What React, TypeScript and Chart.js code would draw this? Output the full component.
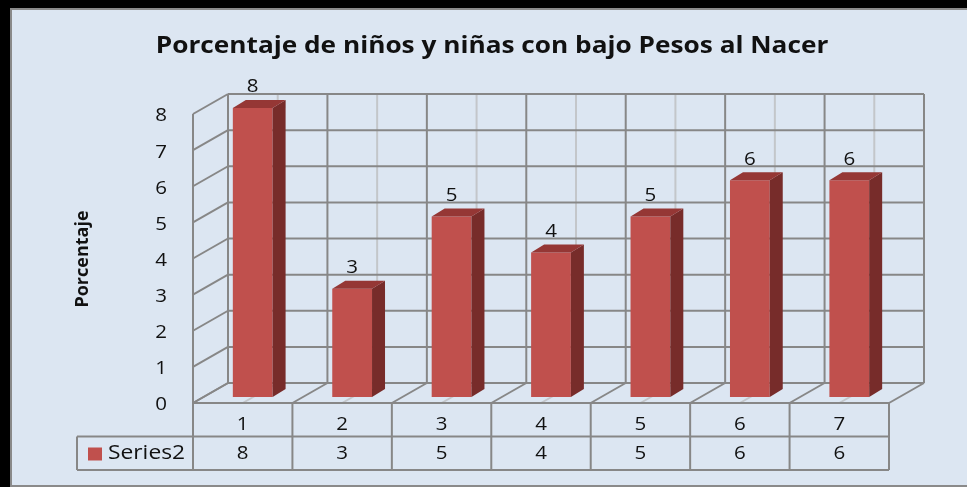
import React, { useEffect, useRef } from "react";
import { Chart, registerables } from "chart.js";

Chart.register(...registerables);

// ---- data ----
const titleText = "Porcentaje de niños y niñas con bajo Pesos al Nacer";
const yAxisTitle = "Porcentaje";
const categories = ["1", "2", "3", "4", "5", "6", "7"];
const seriesName = "Series2";
const series2 = [8, 3, 5, 4, 5, 6, 6];
const yTickLabels = ["0", "1", "2", "3", "4", "5", "6", "7", "8"];

// ---- styles ----
const BG = "#DCE6F2";
const GRID = "#878787";
const GRID_LIGHT = "#C3C6CA";
const BAR_FRONT = "#C0504D";
const BAR_SIDE = "#772C2A";
const BAR_TOP = "#953735";
const FONT = "'Open Sans', 'DejaVu Sans', sans-serif";
const STRETCH = 1.14;

// 3D geometry offsets relative to the bar plane (chart area)
const FX = -10, FY = 6; // front plane
const BX = 25, BY = -14; // back plane
const DX = 13, DY = -8; // bar depth
const ROW_H = 33.5;
const LEGEND_LEFT = 77;

function drawText(ctx: any, text: string, x: number, y: number, font: string, align: string, baseline: string, sx = STRETCH) {
  ctx.save();
  ctx.font = font;
  ctx.textAlign = align;
  ctx.textBaseline = baseline;
  ctx.translate(x, y);
  ctx.scale(sx, 1);
  ctx.fillText(text, 0, 0);
  ctx.restore();
}

const threeD = {
  id: "threeD",
  beforeDraw(chart: any) {
    const ctx = chart.ctx;
    const W = chart.width, H = chart.height;
    ctx.save();
    ctx.fillStyle = BG;
    ctx.fillRect(0, 0, W, H);
    ctx.fillStyle = "#000";
    ctx.fillRect(0, 0, W, 8);
    ctx.fillRect(0, 0, 10, H);
    ctx.fillStyle = "#8a8a8a";
    ctx.fillRect(10, 8, W - 10, 2);
    ctx.fillRect(10, 8, 2, H - 8);
    ctx.fillRect(10, 485, W - 10, 2);
    ctx.restore();
  },
  beforeDatasetsDraw(chart: any) {
    const ctx = chart.ctx;
    const { left, right } = chart.chartArea;
    const ys = chart.scales.y;
    const n = categories.length;
    const colW = (right - left) / n;
    const y0 = ys.getPixelForValue(Number(yTickLabels[0]));
    const yTop = ys.getPixelForValue(Number(yTickLabels[yTickLabels.length - 1]));
    ctx.save();
    ctx.lineCap = "butt";
    const line = (x1: number, y1: number, x2: number, y2: number, c: string, w = 2) => {
      ctx.strokeStyle = c;
      ctx.lineWidth = w;
      ctx.beginPath();
      ctx.moveTo(x1, y1);
      ctx.lineTo(x2, y2);
      ctx.stroke();
    };
    for (let k = 0; k < n; k++) {
      const xb = left + (k + 0.5) * colW;
      line(xb + BX, y0 + BY, xb + BX, yTop + BY, GRID_LIGHT);
      line(xb + FX, y0 + FY, xb + BX, y0 + BY, GRID_LIGHT);
    }
    for (const t of yTickLabels) {
      const y = ys.getPixelForValue(Number(t));
      line(left + BX, y + BY, right + BX, y + BY, GRID);
      line(left + FX, y + FY, left + BX, y + BY, GRID);
    }
    for (let k = 0; k <= n; k++) {
      const xb = left + k * colW;
      line(xb + BX, y0 + BY, xb + BX, yTop + BY, GRID);
      line(xb + FX, y0 + FY, xb + BX, y0 + BY, GRID);
    }
    const tTop = y0 + FY;
    line(left + FX, yTop + FY, left + FX, tTop + 2 * ROW_H, GRID);
    line(left + FX, tTop, right + FX, tTop, GRID);
    line(LEGEND_LEFT, tTop + ROW_H, right + FX, tTop + ROW_H, GRID);
    line(LEGEND_LEFT, tTop + 2 * ROW_H, right + FX, tTop + 2 * ROW_H, GRID);
    line(LEGEND_LEFT, tTop + ROW_H, LEGEND_LEFT, tTop + 2 * ROW_H, GRID);
    for (let k = 1; k <= n; k++) {
      const xb = left + k * colW + FX;
      line(xb, tTop, xb, tTop + 2 * ROW_H, GRID);
    }
    ctx.restore();
  },
  afterDatasetsDraw(chart: any) {
    const ctx = chart.ctx;
    const meta = chart.getDatasetMeta(0);
    ctx.save();
    meta.data.forEach((bar: any, i: number) => {
      const p = bar.getProps(["x", "y", "base", "width"], true);
      const l = p.x - p.width / 2;
      const r = p.x + p.width / 2;
      const t = p.y;
      const b = p.base;
      ctx.fillStyle = BAR_SIDE;
      ctx.beginPath();
      ctx.moveTo(r, t);
      ctx.lineTo(r + DX, t + DY);
      ctx.lineTo(r + DX, b + DY);
      ctx.lineTo(r, b);
      ctx.closePath();
      ctx.fill();
      ctx.fillStyle = BAR_TOP;
      ctx.beginPath();
      ctx.moveTo(l, t);
      ctx.lineTo(l + DX, t + DY);
      ctx.lineTo(r + DX, t + DY);
      ctx.lineTo(r, t);
      ctx.closePath();
      ctx.fill();
      ctx.fillStyle = "#111";
      drawText(ctx, String(series2[i]), p.x, t - 21, `19px ${FONT}`, "center", "middle", 1.08);
    });
    ctx.restore();
  },
  afterDraw(chart: any) {
    const ctx = chart.ctx;
    const { left, right } = chart.chartArea;
    const ys = chart.scales.y;
    const n = categories.length;
    const colW = (right - left) / n;
    const y0 = ys.getPixelForValue(Number(yTickLabels[0]));
    const tTop = y0 + FY;
    ctx.save();
    ctx.fillStyle = "#111";
    drawText(ctx, titleText, 492, 53, `bold 23px ${FONT}`, "center", "alphabetic");
    // y title
    ctx.save();
    ctx.translate(83, 259);
    ctx.rotate(-Math.PI / 2);
    ctx.font = `bold 18px ${FONT}`;
    ctx.textAlign = "center";
    ctx.textBaseline = "middle";
    ctx.fillText(yAxisTitle, 0, 0);
    ctx.restore();
    for (const t of yTickLabels) {
      const y = ys.getPixelForValue(Number(t));
      drawText(ctx, t, 167, y + FY + 2, `19px ${FONT}`, "right", "middle", 1.08);
    }
    for (let k = 0; k < n; k++) {
      const xc = left + (k + 0.5) * colW + FX;
      drawText(ctx, categories[k], xc, tTop + 22, `19px ${FONT}`, "center", "middle", 1.08);
      drawText(ctx, String(series2[k]), xc, tTop + ROW_H + 17.5, `19px ${FONT}`, "center", "middle", 1.08);
    }
    ctx.fillStyle = BAR_FRONT;
    ctx.fillRect(88, tTop + ROW_H + 11, 14, 13);
    ctx.fillStyle = "#111";
    drawText(ctx, seriesName, 108, tTop + ROW_H + 17, `20px ${FONT}`, "left", "middle");
    ctx.restore();
  },
};

export default function App() {
  const ref = useRef<HTMLCanvasElement>(null);
  useEffect(() => {
    const chart = new Chart(ref.current!, {
      type: "bar",
      data: {
        labels: categories,
        datasets: [
          {
            label: seriesName,
            data: series2,
            backgroundColor: BAR_FRONT,
            borderWidth: 0,
            barPercentage: 0.4,
            categoryPercentage: 1,
          },
        ],
      },
      options: {
        responsive: false,
        animation: false,
        events: [],
        layout: { padding: { left: 203, right: 68, top: 108, bottom: 90 } },
        scales: {
          x: { display: false, offset: true },
          y: { display: false, min: 0, max: 8 },
        },
        plugins: {
          legend: { display: false },
          title: { display: false },
          tooltip: { enabled: false },
        },
      },
      plugins: [threeD],
    });
    return () => chart.destroy();
  }, []);
  return (
    <div style={{ position: "absolute", left: 0, top: 0, width: 967, height: 487 }}>
      <canvas ref={ref} width={967} height={487} style={{ display: "block" }} />
    </div>
  );
}
